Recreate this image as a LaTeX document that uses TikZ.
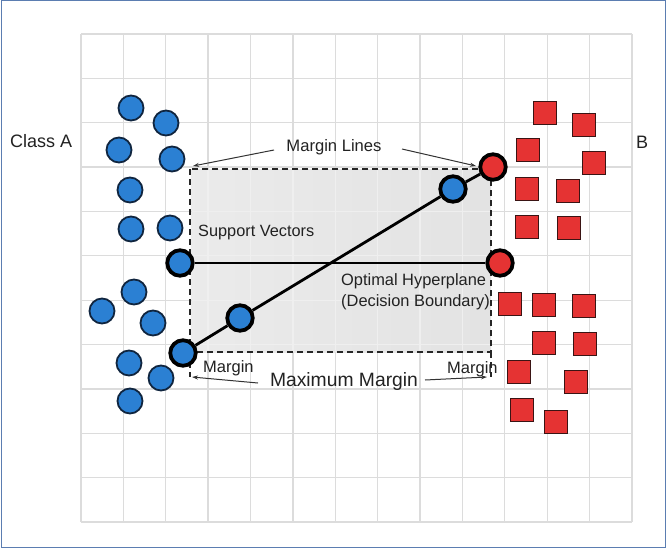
\documentclass[tikz,border=0pt]{standalone}
\usepackage{fontspec}
\setmainfont{Liberation Sans}
\usetikzlibrary{arrows.meta}
\definecolor{frameC}{HTML}{5B7DB1}
\definecolor{gridC}{HTML}{DCDCDC}
\definecolor{gridIn}{HTML}{EFEFEF}
\definecolor{blueA}{HTML}{2B80D3}
\definecolor{navyA}{HTML}{10253F}
\definecolor{redB}{HTML}{E53333}
\definecolor{darkB}{HTML}{3A1414}
\definecolor{txt}{HTML}{222222}
\definecolor{arrC}{HTML}{333333}
\tikzset{
  ptA/.style={circle, fill=blueA, draw=navyA, line width=1.8pt, minimum size=25pt, inner sep=0pt},
  svA/.style={circle, fill=blueA, draw=black, line width=3.8pt, minimum size=25.5pt, inner sep=0pt},
  svB/.style={circle, fill=redB, draw=black, line width=3.8pt, minimum size=25.5pt, inner sep=0pt},
  sqB/.style={rectangle, fill=redB, draw=darkB, line width=1.3pt, minimum size=22.5pt, inner sep=0pt},
  gridline/.style={gridC, line width=1.3pt},
  marginbox/.style={black!85, line width=2.2pt, dash pattern=on 6pt off 4pt},
  sepline/.style={black, line width=2.8pt},
  arr/.style={arrC, line width=1pt, -{Stealth[length=6pt,width=4pt]}},
  lbl/.style={text=txt, inner sep=0pt},
}
\begin{document}
\begin{tikzpicture}[x=1pt,y=-1pt]
\useasboundingbox (0,0) rectangle (667,549);
\fill[white] (0,0) rectangle (667,549);
\draw[frameC, line width=1.3pt] (1.5,0.8) rectangle (665.2,547.6);

% shaded margin region
\fill[left color=black!8, right color=black!11] (191,169) rectangle (491,352);

% grid
\foreach \i in {0,...,13} \draw[gridline] ({81+42.38*\i},34) -- ({81+42.38*\i},522);
\foreach \j in {0,...,11} \draw[gridline] (81,{34+44.36*\j}) -- (632,{34+44.36*\j});
\begin{scope}
  \clip (192,170) rectangle (490,351);
  \foreach \i in {0,...,13} \draw[gridIn, line width=1.3pt] ({81+42.38*\i},34) -- ({81+42.38*\i},522);
  \foreach \j in {0,...,11} \draw[gridIn, line width=1.3pt] (81,{34+44.36*\j}) -- (632,{34+44.36*\j});
\end{scope}

% dashed margin lines
\draw[marginbox] (190,169) rectangle (491,352);
\draw[marginbox] (190,352) -- (190,377);
\draw[marginbox] (491,352) -- (491,377);

% class A points
\node[ptA] (a1) at (131,108) {};
\node[ptA] (a2) at (166,123) {};
\node[ptA] (a3) at (119,150) {};
\node[ptA] (a4) at (172,159) {};
\node[ptA] (a5) at (130,190) {};
\node[ptA] (a6) at (131,229) {};
\node[ptA] (a7) at (170,228) {};
\node[ptA] (a8) at (134,292) {};
\node[ptA] (a9) at (102,311) {};
\node[ptA] (a10) at (153,323) {};
\node[ptA] (a11) at (129,363) {};
\node[ptA] (a12) at (161,378) {};
\node[ptA] (a13) at (130,401) {};

% class B points
\node[sqB] (b1) at (545,113) {};
\node[sqB] (b2) at (584,125) {};
\node[sqB] (b3) at (528,150) {};
\node[sqB] (b4) at (594,163) {};
\node[sqB] (b5) at (527,189) {};
\node[sqB] (b6) at (568,191) {};
\node[sqB] (b7) at (527,227) {};
\node[sqB] (b8) at (569,228) {};
\node[sqB] (b9) at (510,304) {};
\node[sqB] (b10) at (544,305) {};
\node[sqB] (b11) at (584,306) {};
\node[sqB] (b12) at (544,343) {};
\node[sqB] (b13) at (585,344) {};
\node[sqB] (b14) at (519,372) {};
\node[sqB] (b15) at (576,382) {};
\node[sqB] (b16) at (522,410) {};
\node[sqB] (b17) at (556,422) {};

% support vectors
\node[svA] (sv1) at (180,263) {};
\node[svB] (sr2) at (500,263) {};
\node[svA] (sv2) at (183,353) {};
\node[svA] (sm) at (240,318) {};
\node[svA] (sb) at (453,189) {};
\node[svB] (sr1) at (493,167) {};

\draw[sepline] (sv1) -- (sr2);
\draw[sepline] (sv2) -- (sm) -- (sb) -- (sr1);

% labels
\node[lbl, anchor=west, font=\fontsize{18}{21}\selectfont] (ca) at (10,141) {Class A};
\node[lbl, font=\fontsize{18}{21}\selectfont] (cb) at (642,142) {B};
\node[lbl, font=\fontsize{16.6}{20}\selectfont] (ml) at (334,147) {Margin Lines};
\node[lbl, anchor=west, font=\fontsize{16.3}{20}\selectfont] (sv) at (198,232) {Support Vectors};
\node[lbl, anchor=west, align=left, font=\fontsize{16.4}{20.6}\selectfont] (oh) at (341,292) {Optimal Hyperplane\\(Decision Boundary)};
\node[lbl, anchor=west, font=\fontsize{16.5}{20}\selectfont] (mgl) at (203,368) {Margin};
\node[lbl, anchor=west, font=\fontsize{16.5}{20}\selectfont] (mgr) at (447,369) {Margin};
\node[lbl, font=\fontsize{19.3}{23}\selectfont] (mm) at (344,382) {Maximum Margin};

% arrows
\coordinate (mlA) at (274,150);
\coordinate (mlB) at (402,149);
\coordinate (tl) at (193,166);
\coordinate (tr) at (476,166);
\coordinate (mmA) at (258,383);
\coordinate (mmB) at (425,380);
\coordinate (bl) at (192,377);
\coordinate (br) at (487,377);
\draw[arr] (mlA) -- (tl);
\draw[arr] (mlB) -- (tr);
\draw[arr] (mmA) -- (bl);
\draw[arr] (mmB) -- (br);
\end{tikzpicture}
\end{document}
